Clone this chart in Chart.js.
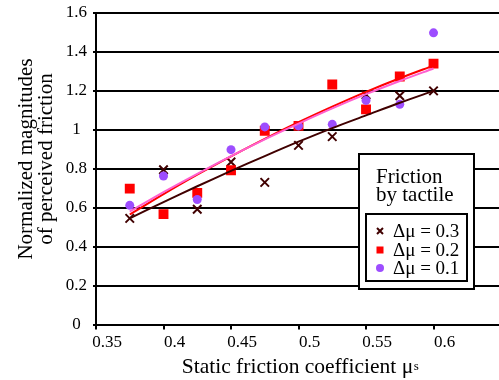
<!DOCTYPE html>
<html>
<head>
<meta charset="utf-8">
<script src="https://cdn.jsdelivr.net/npm/chart.js@4/dist/chart.umd.min.js"></script>
<style>
  html, body { margin: 0; padding: 0; background: #fff; }
  #wrap { width: 499px; height: 380px; overflow: hidden; position: relative; }
  canvas { display: block; }
</style>
</head>
<body>
<div id="wrap"><canvas id="c" width="507" height="380"></canvas></div>
<script>
// ---- data ----
const muS = [0.375, 0.4, 0.425, 0.45, 0.475, 0.5, 0.525, 0.55, 0.575, 0.6];
const dmu03 = [0.545, 0.795, 0.592, 0.835, 0.73, 0.92, 0.965, 1.18, 1.175, 1.2];
const dmu02 = [0.698, 0.567, 0.676, 0.792, 0.995, 1.02, 1.233, 1.105, 1.274, 1.34];
const dmu01 = [0.612, 0.763, 0.642, 0.898, 1.015, 1.02, 1.028, 1.151, 1.131, 1.498];
// trend lines (at each x)
const trend03 = [0.545, 0.629, 0.710, 0.789, 0.865, 0.939, 1.009, 1.074, 1.139, 1.2];
const trend02 = [0.565, 0.670, 0.770, 0.864, 0.954, 1.039, 1.119, 1.195, 1.265, 1.33];
const trend01 = [0.58, 0.680, 0.774, 0.865, 0.951, 1.032, 1.110, 1.183, 1.251, 1.315];
const seriesNames = ['\u0394\u03bc = 0.3', '\u0394\u03bc = 0.2', '\u0394\u03bc = 0.1'];
const xTicks = [0.35, 0.4, 0.45, 0.5, 0.55, 0.6];
const xTickLabels = ['0.35', '0.4', '0.45', '0.5', '0.55', '0.6'];
const yTicks = [0, 0.2, 0.4, 0.6, 0.8, 1, 1.2, 1.4, 1.6];
const yTickLabels = ['0', '0.2', '0.4', '0.6', '0.8', '1', '1.2', '1.4', '1.6'];
const legendTitle = ['Friction', 'by tactile'];
const xTitle = 'Static friction coefficient \u03bc';
const xTitleSub = 's';
const yTitle = ['Normalized magnitudes', 'of perceived friction'];

const BROWN = '#400000', RED = '#ff0000', PURPLE = '#9d4dff', PINK = '#ff60d0';
const SERIF = '"Liberation Serif", "Times New Roman", serif';

const pts = (ys) => muS.map((x, i) => ({ x: x, y: ys[i] }));

const legendPlugin = {
  id: 'boxLegend',
  afterDraw(chart) {
    const ctx = chart.ctx;
    ctx.save();
    ctx.fillStyle = '#fff';
    ctx.fillRect(359, 154, 115, 135);
    ctx.strokeStyle = '#000';
    ctx.lineWidth = 2;
    ctx.strokeRect(359, 154, 115, 135);
    ctx.fillStyle = '#000';
    ctx.font = '21px ' + SERIF;
    ctx.textBaseline = 'alphabetic';
    ctx.textAlign = 'left';
    ctx.fillText(legendTitle[0], 376, 183);
    ctx.fillText(legendTitle[1], 376, 201);
    ctx.strokeRect(366, 214, 101, 67);
    const ys = [231, 250, 268];
    ctx.font = '19px ' + SERIF;
    ctx.textBaseline = 'middle';
    for (let i = 0; i < 3; i++) {
      const cx = 380, cy = ys[i];
      if (i === 0) {
        ctx.strokeStyle = BROWN; ctx.lineWidth = 2;
        ctx.beginPath();
        ctx.moveTo(cx - 3, cy - 3); ctx.lineTo(cx + 3, cy + 3);
        ctx.moveTo(cx + 3, cy - 3); ctx.lineTo(cx - 3, cy + 3);
        ctx.stroke();
      } else if (i === 1) {
        ctx.fillStyle = RED; ctx.fillRect(cx - 3.5, cy - 3.5, 7, 7);
      } else {
        ctx.fillStyle = PURPLE; ctx.beginPath(); ctx.arc(cx, cy, 4, 0, Math.PI * 2); ctx.fill();
      }
      ctx.fillStyle = '#000';
      ctx.fillText(seriesNames[i], 393, cy + 1);
    }
    ctx.restore();
  }
};

const titlePlugin = {
  id: 'axisTitles',
  afterDraw(chart) {
    const ctx = chart.ctx;
    ctx.save();
    ctx.fillStyle = '#000';
    ctx.textAlign = 'left';
    ctx.textBaseline = 'alphabetic';
    ctx.font = '21.5px ' + SERIF;
    const w1 = ctx.measureText(xTitle).width;
    ctx.font = '13px ' + SERIF;
    const w2 = ctx.measureText(xTitleSub).width;
    const x0 = 300 - (w1 + w2) / 2;
    ctx.font = '21.5px ' + SERIF;
    ctx.fillText(xTitle, x0, 373);
    ctx.font = '13px ' + SERIF;
    ctx.fillText(xTitleSub, x0 + w1 + 0.5, 370);
    ctx.font = '21px ' + SERIF;
    ctx.textAlign = 'center';
    ctx.textBaseline = 'middle';
    ctx.translate(0, 159);
    ctx.rotate(-Math.PI / 2);
    ctx.fillText(yTitle[0], 0, 26);
    ctx.fillText(yTitle[1], 0, 46);
    ctx.restore();
  }
};

new Chart(document.getElementById('c'), {
  type: 'scatter',
  data: {
    datasets: [
      { label: 'trend 0.1', data: pts(trend01), showLine: true, borderColor: PINK, borderWidth: 2,
        pointRadius: 0, tension: 0.3, order: -2, fill: false },
      { label: 'trend 0.2', data: pts(trend02), showLine: true, borderColor: RED, borderWidth: 2,
        pointRadius: 0, tension: 0.3, order: -1, fill: false },
      { label: 'trend 0.3', data: pts(trend03), showLine: true, borderColor: BROWN, borderWidth: 2,
        pointRadius: 0, tension: 0.3, order: 0, fill: false },
      { label: seriesNames[2], data: pts(dmu01), pointStyle: 'circle', pointRadius: 4.5,
        backgroundColor: PURPLE, borderColor: PURPLE, borderWidth: 0, order: 1 },
      { label: seriesNames[1], data: pts(dmu02), pointStyle: 'rect', pointRadius: 7,
        backgroundColor: RED, borderColor: RED, borderWidth: 0, order: 2 },
      { label: seriesNames[0], data: pts(dmu03), pointStyle: 'crossRot', pointRadius: 6,
        backgroundColor: BROWN, borderColor: BROWN, borderWidth: 2, order: 3 }
    ]
  },
  options: {
    responsive: false,
    animation: false,
    events: [],
    layout: { padding: { top: 13, left: 0, right: 0, bottom: 0 } },
    plugins: { legend: { display: false }, tooltip: { enabled: false } },
    scales: {
      x: {
        type: 'linear',
        min: 0.35,
        max: 0.6485,
        afterBuildTicks: (s) => { s.ticks = xTicks.map(v => ({ value: v })); },
        afterFit: (s) => { s.height = 55.5; s.paddingLeft = 0; s.paddingRight = 0; },
        ticks: {
          color: '#000',
          font: { family: SERIF, size: 17 },
          padding: 3,
          labelOffset: 11,
          maxRotation: 0,
          autoSkip: false,
          callback: (v) => { const i = xTicks.findIndex(t => Math.abs(t - v) < 1e-6); return i >= 0 ? xTickLabels[i] : ''; }
        },
        grid: { drawOnChartArea: false, drawTicks: true, tickLength: 5, color: '#000', lineWidth: 2 },
        border: { display: true, color: '#000', width: 2 }
      },
      y: {
        type: 'linear',
        min: 0,
        max: 1.6,
        afterBuildTicks: (s) => { s.ticks = yTicks.map(v => ({ value: v })); },
        afterFit: (s) => { s.width = 96; s.paddingTop = 0; s.paddingBottom = 0; },
        ticks: {
          color: '#000',
          font: { family: SERIF, size: 17 },
          padding: 6,
          crossAlign: 'center',
          callback: (v) => { const i = yTicks.findIndex(t => Math.abs(t - v) < 1e-6); return i >= 0 ? yTickLabels[i] : ''; }
        },
        grid: { color: '#000', lineWidth: 2, drawTicks: true, tickLength: 3 },
        border: { display: true, color: '#000', width: 2 }
      }
    }
  },
  plugins: [titlePlugin, legendPlugin]
});
</script>
</body>
</html>
